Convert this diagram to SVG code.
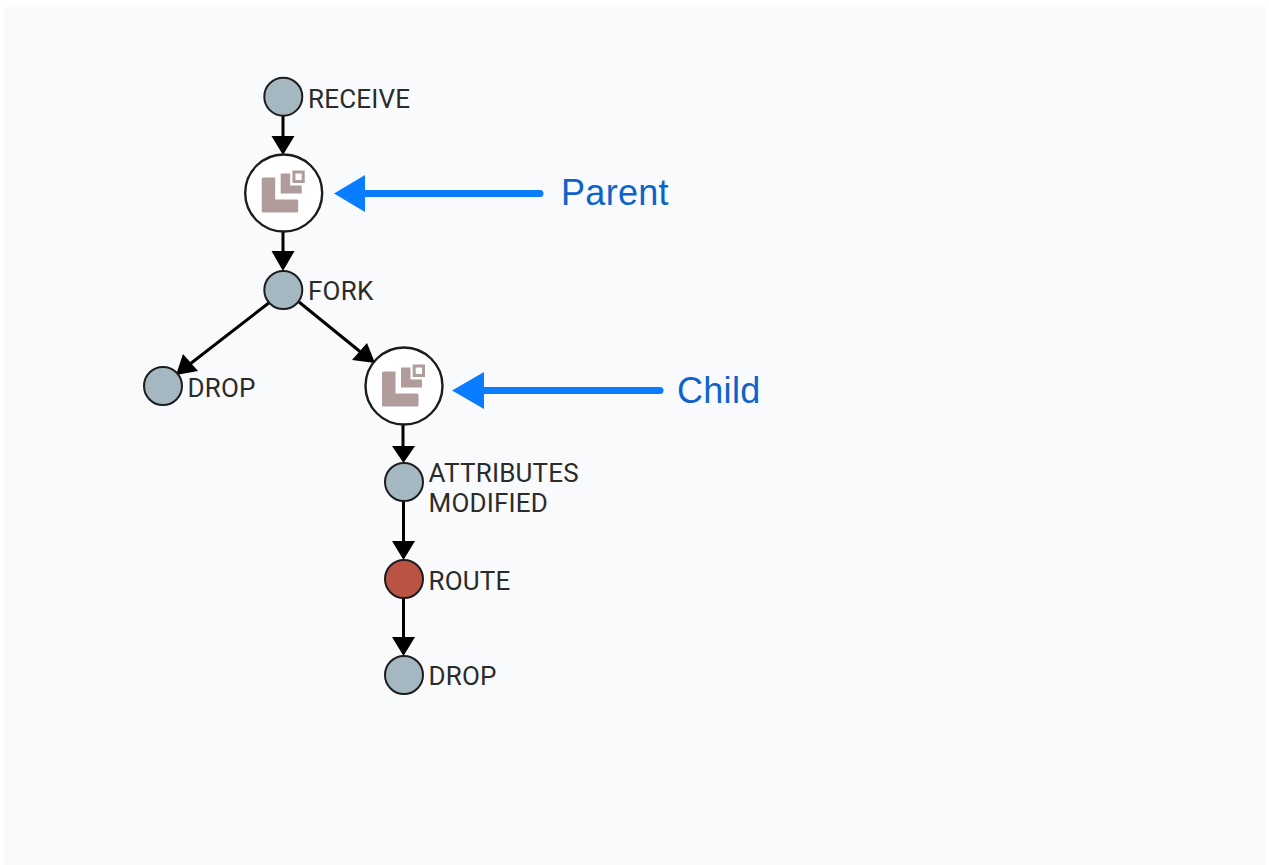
<svg xmlns="http://www.w3.org/2000/svg" width="1269" height="865" viewBox="0 0 1269 865">
<style>
.bg{fill:#f9fafc}
.n{fill:#a5b7c0;stroke:#1c1c1c;stroke-width:2}
.r{fill:#bb5344;stroke:#1c1c1c;stroke-width:2}
.w{fill:#fff;stroke:#1c1c1c;stroke-width:2.4}
.c{fill:none;stroke:#000;stroke-width:3}
.h{fill:#000}
.ic{fill:#b09c9b}
.t{font-family:"Roboto","Liberation Sans",sans-serif;font-size:26px;letter-spacing:.2px;fill:#2b2b2b}
.b{font-family:"Liberation Sans",sans-serif;font-size:36px;letter-spacing:.3px;fill:#0d63c9}
.ba{fill:none;stroke:#0a7cff;stroke-width:7;stroke-linecap:round}
.bh{fill:#0a7cff}
</style>
<defs>
<g id="icon">
<path class="ic" d="M-22 -13Q-22 -14.500 -20.500 -14.500H-8.500V7.500H13Q14.500 7.500 14.500 9V19Q14.500 20.500 13 20.500H-20.500Q-22 20.500 -22 19Z"/>
<path class="ic" d="M-3 -18.500H6.500V-6.500H18V1.500H-3Z"/>
<path fill="none" stroke="#b09c9b" stroke-width="3" d="M10.200 -20H19.500V-10.500H10.200Z"/>
</g>
</defs>
<rect x="0" y="0" width="1269" height="865" fill="#fff"/>
<rect class="bg" x="4" y="7" width="1262" height="858"/>
<g id="connectors">
<path class="c" d="M283 116V140"/><path class="h" d="M271.500 136H294.500L283 155Z"/>
<path class="c" d="M283 231V255"/><path class="h" d="M271.500 251H294.500L283 271Z"/>
<path class="c" d="M270 302L190 364"/><path class="h" d="M183 354L198 371L176 375Z"/>
<path class="c" d="M299 302L363 354"/><path class="h" d="M367 343L352 360L375 363Z"/>
<path class="c" d="M403 425V450"/><path class="h" d="M392 446H415L403.500 463Z"/>
<path class="c" d="M403.500 501V545"/><path class="h" d="M392 541H415L403.500 560Z"/>
<path class="c" d="M403.500 598V641"/><path class="h" d="M392 637H415L403.500 656Z"/>
</g>
<g id="receive"><circle class="n" cx="283.300" cy="96.700" r="19"/><text class="t" x="308" y="107.500">RECEIVE</text></g>
<g id="parent"><circle class="w" cx="283.700" cy="193" r="38.500"/><use href="#icon" x="283.700" y="192"/></g>
<g id="fork"><circle class="n" cx="283.300" cy="290" r="19"/><text class="t" x="308" y="299.500">FORK</text></g>
<g id="drop1"><circle class="n" cx="163" cy="386" r="19"/><text class="t" x="187.500" y="396.500">DROP</text></g>
<g id="child"><circle class="w" cx="404" cy="386" r="38.500"/><use href="#icon" x="404" y="386"/></g>
<g id="attributes"><circle class="n" cx="404" cy="482" r="19"/><text class="t" x="428.500" y="481.500">ATTRIBUTES</text><text class="t" x="428.500" y="511.500">MODIFIED</text></g>
<g id="route"><circle class="r" cx="404" cy="579" r="19"/><text class="t" x="428.500" y="589.500">ROUTE</text></g>
<g id="drop2"><circle class="n" cx="404" cy="675" r="19"/><text class="t" x="428.500" y="684.500">DROP</text></g>
<g id="parent-callout">
<path class="ba" d="M360 193.500H540"/><path class="bh" d="M334 193.500L365 175V212Z"/>
<text class="b" x="561" y="205">Parent</text>
</g>
<g id="child-callout">
<path class="ba" d="M480 390.500H660"/><path class="bh" d="M452 390.500L484 372V409Z"/>
<text class="b" x="677" y="403">Child</text>
</g>
</svg>
